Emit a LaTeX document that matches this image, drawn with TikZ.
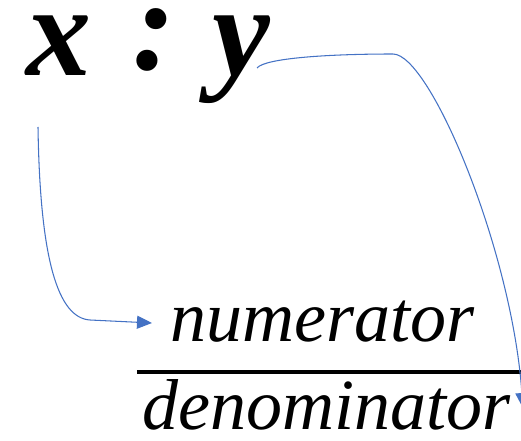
\documentclass[tikz,border=0pt]{standalone}
\usepackage{fontspec}
\setmainfont{Liberation Serif}
\usetikzlibrary{arrows.meta, positioning, calc}
\definecolor{linkblue}{HTML}{4472C4}

\begin{document}
\begin{tikzpicture}[
  x=0.2mm, y=-0.2mm,
  >={Triangle[length=3mm, width=2.6mm]},
  ratio/.style={font=\fontsize{74}{74}\selectfont\bfseries\itshape,
    inner sep=0pt, anchor=base west},
  term/.style={font=\fontsize{41}{41}\selectfont\itshape,
    inner sep=0pt, anchor=base west},
  arr/.style={->, line width=0.6pt, linkblue},
  fracbar/.style={line width=1.8pt, black},
]

\useasboundingbox (0,0) rectangle (521,441);

% =============================================
% Ratio x : y
% =============================================
\node[ratio] (x) at (26,76) {x};
\node[ratio, anchor=center] (colon) at (154,40) {:};
\node[ratio] (y) at (212,76) {y};

% =============================================
% Fraction
% =============================================
\node[term] (num) at (170,342) {numerator};
\node[term] (den) at (142,430) {denominator};

\draw[fracbar] ([shift={(-5,-58)}]den.base west) -- ([shift={(10,-58)}]den.base east);

% =============================================
% Arrows
% =============================================

% x -> numerator
\draw[arr] ([shift={(12,51)}]x.base west)
  .. controls (40,260) and (58,318) .. (90,320)
  -- ([shift={(-18,-19)}]num.base west);

% y -> denominator
\draw[arr] ([shift={(45,-8)}]y.base west)
  .. controls (265,58) and (330,54) .. (393,54)
  .. controls (430,54) and (512,250) .. ([shift={(12,-22)}]den.base east);

\end{tikzpicture}
\end{document}
